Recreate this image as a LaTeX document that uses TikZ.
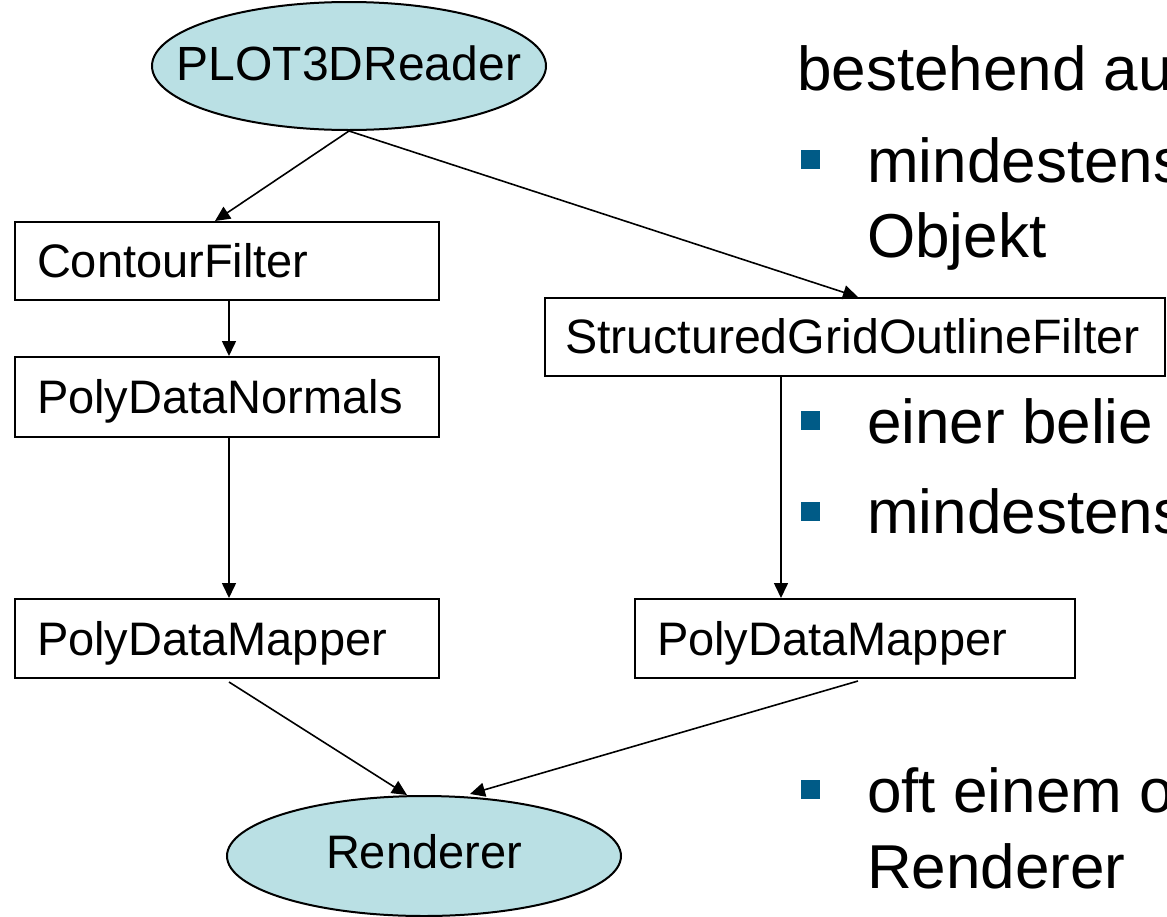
\documentclass[tikz,border=0pt]{standalone}
\usepackage{fontspec}
\setmainfont{Liberation Sans}
\usetikzlibrary{shapes.geometric,arrows.meta}
\definecolor{nodefill}{RGB}{186,224,228}
\definecolor{bulletblue}{RGB}{0,91,135}
\begin{document}
\begin{tikzpicture}[x=1pt,y=-1pt,
  boxnode/.style={draw=black,line width=2pt,rectangle,inner xsep=#1,inner ysep=0pt,
    align=left,text height=33.6pt,text depth=0pt,
    font=\fontsize{47}{56}\selectfont},
  ovalnode/.style={ellipse,draw=black,line width=2pt,fill=nodefill,inner sep=0pt,
    minimum width=394pt,text height=0pt,text depth=0pt},
  conn/.style={-{Triangle[length=15pt,width=14pt]},line width=1.6pt},
  bulletsq/.style={rectangle,fill=bulletblue,inner sep=0pt,minimum size=19pt},
  bodytext/.style={anchor=base west,inner sep=0pt,font=\fontsize{62}{74}\selectfont}]
\useasboundingbox (0,0) rectangle (1167,916);
\clip (0,0) rectangle (1167,916);
% diagram
\node[ovalnode,minimum height=128pt,font=\fontsize{48}{56}\selectfont] (plot) at (349,66)
  {\makebox[0pt]{\raisebox{-14pt}[0pt][0pt]{PLOT3DReader}}};
\node[boxnode=22pt,text width=380pt,minimum height=78pt] (cf) at (227,261) {ContourFilter};
\node[boxnode=22pt,text width=380pt,minimum height=80pt] (pdn) at (227,397) {PolyDataNormals};
\node[boxnode=22pt,text width=380pt,minimum height=79pt] (pdm1) at (227,638.5) {PolyDataMapper};
\node[boxnode=20pt,text width=580pt,minimum height=78pt,font=\fontsize{48.3}{56}\selectfont] (sgof) at (855,337) {StructuredGridOutlineFilter};
\node[boxnode=22pt,text width=396pt,minimum height=79pt] (pdm2) at (855,638.5) {PolyDataMapper};
\node[ovalnode,minimum height=120pt,font=\fontsize{47}{56}\selectfont] (ren) at (424,856)
  {\makebox[0pt]{\raisebox{-12pt}[0pt][0pt]{Renderer}}};
\draw[conn] (plot.south) -- ([xshift=-12pt]cf.north);
\draw[conn] (plot.south) -- ([xshift=3pt]sgof.north);
\draw[conn] ([xshift=2pt]cf.south) -- ([xshift=2pt]pdn.north);
\draw[conn] ([xshift=2pt]pdn.south) -- ([xshift=2pt]pdm1.north);
\draw[conn] ([xshift=-74pt]sgof.south) -- ([xshift=-74pt]pdm2.north);
\draw[conn] ([xshift=2pt,yshift=-3pt]pdm1.south) -- ([xshift=-17pt]ren.north);
\draw[conn] ([xshift=3pt,yshift=-2pt]pdm2.south) -- ([xshift=46pt,yshift=1pt]ren.north);
% text on the right (cut off at the right edge, as in the reference)
\node[bodytext] (t1) at (797,90) {bestehend au};
\node[bulletsq] (b1) at (810.5,159.5) {};
\node[bodytext] (t2) at (867,182) {mindestens};
\node[bodytext] (t3) at (867,257) {Objekt};
\node[bulletsq] (b2) at (810.5,420.5) {};
\node[bodytext] (t4) at (867,443) {einer belie};
\node[bulletsq] (b3) at (810.5,511.5) {};
\node[bodytext] (t5) at (867,533) {mindestens};
\node[bulletsq] (b4) at (810.5,789.5) {};
\node[bodytext] (t6) at (867,812) {oft einem o};
\node[bodytext] (t7) at (867,888) {Renderer};
\end{tikzpicture}
\end{document}
